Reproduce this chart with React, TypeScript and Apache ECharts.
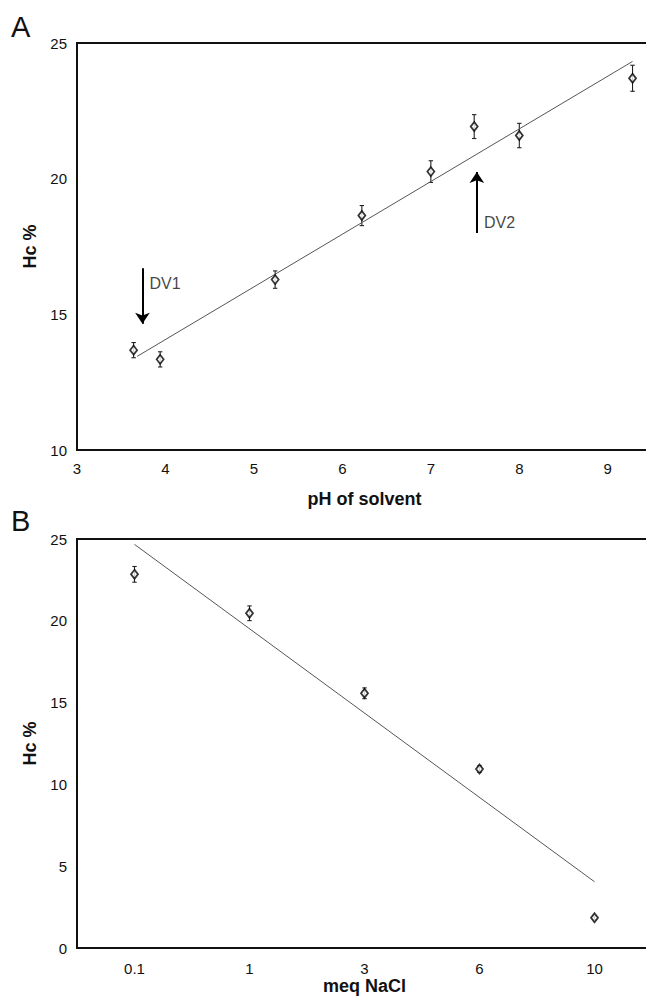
import React, { useEffect, useRef } from "react";
import * as echarts from "echarts";

// ---- Panel A: Hc % vs pH of solvent ----
const phValues = [3.64, 3.94, 5.24, 6.22, 7.0, 7.49, 8.0, 9.28];
const hcA = [13.68, 13.34, 16.28, 18.64, 20.26, 21.92, 21.59, 23.7];
const errA = [0.28, 0.28, 0.32, 0.37, 0.4, 0.44, 0.45, 0.48];
const trendA = [
  [3.68, 13.45],
  [9.28, 24.32],
];
// arrows: [x, fromY, toY]
const arrowLines = [
  [3.74, 16.7, 14.65],
  [7.52, 18.0, 20.25],
];
const arrowLabels = ["DV1", "DV2"];
const arrowLabelPos = [
  [3.82, 16.14],
  [7.6, 18.37],
];

// ---- Panel B: Hc % vs meq NaCl ----
const naclCats = ["0.1", "1", "3", "6", "10"];
const hcB = [22.84, 20.46, 15.57, 10.94, 1.85];
const errB = [0.48, 0.45, 0.33, 0.2, 0.1];
const trendB = [
  ["0.1", 24.67],
  ["10", 4.05],
];

const FONT = "'Liberation Sans', Arial, Helvetica, sans-serif";
const INK = "#111";

function errorBarItem(params: any, api: any) {
  const x = api.value(0);
  const y = api.value(1);
  const e = api.value(2);
  const top = api.coord([x, y + e]);
  const bot = api.coord([x, y - e]);
  const cap = 2.2;
  const style = { stroke: "#222", lineWidth: 1.1 };
  return {
    type: "group",
    children: [
      { type: "line", shape: { x1: top[0], y1: top[1], x2: bot[0], y2: bot[1] }, style },
      { type: "line", shape: { x1: top[0] - cap, y1: top[1], x2: top[0] + cap, y2: top[1] }, style },
      { type: "line", shape: { x1: bot[0] - cap, y1: bot[1], x2: bot[0] + cap, y2: bot[1] }, style },
    ],
  };
}

const axisNameStyle = { fontFamily: FONT, fontSize: 18, fontWeight: "bold" as const, color: INK };
const tickLabel = { fontFamily: FONT, fontSize: 15, color: INK };

export default function App() {
  const ref = useRef<HTMLDivElement>(null);

  useEffect(() => {
    if (!ref.current) return;
    const chart = echarts.init(ref.current, undefined, { renderer: "svg" });
    const markerStyle = { color: "#fff", borderColor: "#000", borderWidth: 1.8 };

    chart.setOption({
      animation: false,
      backgroundColor: "#fff",
      grid: [
        {
          left: 77, top: 43, width: 575, height: 407,
          show: true, borderColor: INK, borderWidth: 2, backgroundColor: "transparent",
          containLabel: false, outerBoundsMode: "none",
        },
        {
          left: 77, top: 539, width: 575, height: 409,
          show: true, borderColor: INK, borderWidth: 2, backgroundColor: "transparent",
          containLabel: false, outerBoundsMode: "none",
        },
      ],
      graphic: [
        { type: "text", left: 11, top: 12, style: { text: "A", font: `29px ${FONT}`, fill: INK } },
        { type: "text", left: 11, top: 506, style: { text: "B", font: `29px ${FONT}`, fill: INK } },
      ],
      xAxis: [
        {
          type: "value",
          gridIndex: 0,
          min: 3,
          max: 9.5,
          interval: 1,
          axisLine: { show: true, lineStyle: { color: INK, width: 2 } },
          axisTick: { show: false },
          splitLine: { show: false },
          axisLabel: {
            ...tickLabel,
            margin: 11,
            formatter: (v: number) => (Number.isInteger(v) ? String(v) : ""),
          },
          name: "pH of solvent",
          nameLocation: "middle",
          nameGap: 40,
          nameTextStyle: axisNameStyle,
        },
        {
          type: "category",
          gridIndex: 1,
          data: naclCats,
          boundaryGap: true,
          axisLine: { show: true, lineStyle: { color: INK, width: 2 } },
          axisTick: { show: false },
          splitLine: { show: false },
          axisLabel: { ...tickLabel, margin: 13 },
          name: "meq NaCl",
          nameLocation: "middle",
          nameGap: 26,
          nameTextStyle: axisNameStyle,
        },
      ],
      yAxis: [
        {
          type: "value",
          gridIndex: 0,
          min: 10,
          max: 25,
          interval: 5,
          axisLine: { show: true, lineStyle: { color: INK, width: 2 } },
          axisTick: { show: false },
          splitLine: { show: false },
          axisLabel: { ...tickLabel, margin: 10 },
          name: "Hc %",
          nameLocation: "middle",
          nameGap: 38,
          nameTextStyle: axisNameStyle,
        },
        {
          type: "value",
          gridIndex: 1,
          min: 0,
          max: 25,
          interval: 5,
          axisLine: { show: true, lineStyle: { color: INK, width: 2 } },
          axisTick: { show: false },
          splitLine: { show: false },
          axisLabel: { ...tickLabel, margin: 10 },
          name: "Hc %",
          nameLocation: "middle",
          nameGap: 38,
          nameTextStyle: axisNameStyle,
        },
      ],
      series: [
        // Panel A
        {
          type: "line",
          xAxisIndex: 0,
          yAxisIndex: 0,
          data: trendA,
          symbol: "none",
          silent: true,
          lineStyle: { color: "#555", width: 1 },
          markLine: {
            silent: true,
            symbol: ["none", "arrow"],
            symbolSize: 11,
            label: { show: false },
            lineStyle: { color: "#000", width: 2, type: "solid" },
            data: arrowLines.map(([x, y0, y1]) => [{ coord: [x, y0] }, { coord: [x, y1] }]),
          },
        },
        {
          type: "custom",
          xAxisIndex: 0,
          yAxisIndex: 0,
          data: phValues.map((x, i) => [x, hcA[i], errA[i]]),
          renderItem: errorBarItem,
          silent: true,
          z: 3,
        },
        {
          type: "scatter",
          xAxisIndex: 0,
          yAxisIndex: 0,
          data: phValues.map((x, i) => [x, hcA[i]]),
          symbol: "diamond",
          symbolSize: [7, 9],
          itemStyle: markerStyle,
          z: 4,
        },
        {
          type: "scatter",
          xAxisIndex: 0,
          yAxisIndex: 0,
          data: arrowLabelPos,
          symbolSize: 0,
          silent: true,
          label: {
            show: true,
            position: "right",
            distance: 0,
            formatter: (p: any) => arrowLabels[p.dataIndex],
            fontFamily: FONT,
            fontSize: 16,
            color: INK,
          },
        },
        // Panel B
        {
          type: "line",
          xAxisIndex: 1,
          yAxisIndex: 1,
          data: trendB,
          symbol: "none",
          silent: true,
          lineStyle: { color: "#555", width: 1 },
        },
        {
          type: "custom",
          xAxisIndex: 1,
          yAxisIndex: 1,
          data: naclCats.map((_, i) => [i, hcB[i], errB[i]]),
          renderItem: errorBarItem,
          silent: true,
          z: 3,
        },
        {
          type: "scatter",
          xAxisIndex: 1,
          yAxisIndex: 1,
          data: hcB,
          symbol: "diamond",
          symbolSize: [7, 9],
          itemStyle: markerStyle,
          z: 4,
        },
      ],
    });

    return () => chart.dispose();
  }, []);

  return (
    <div
      ref={ref}
      style={{ position: "absolute", left: 0, top: 0, width: 646, height: 1001, background: "#fff" }}
    />
  );
}
